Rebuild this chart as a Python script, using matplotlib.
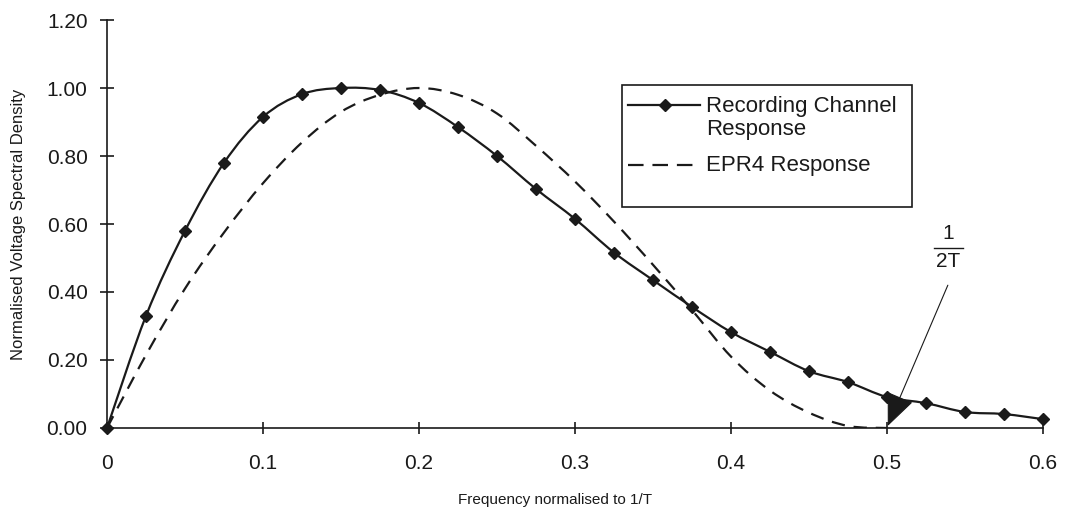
import matplotlib
matplotlib.use("Agg")
import matplotlib.pyplot as plt
from matplotlib.lines import Line2D
from matplotlib.path import Path
from matplotlib.patches import PathPatch, Rectangle

plt.rcParams['font.family'] = ['Liberation Sans', 'DejaVu Sans']

# Frequency (normalised to 1/T)
freq = [0.0, 0.025, 0.05, 0.075, 0.1, 0.125, 0.15, 0.175, 0.2, 0.225, 0.25,
        0.275, 0.3, 0.325, 0.35, 0.375, 0.4, 0.425, 0.45, 0.475, 0.5,
        0.525, 0.55, 0.575, 0.6]
# Recording channel response
recording = [0.0, 0.33, 0.58, 0.78, 0.915, 0.982, 1.0, 0.994, 0.956, 0.885, 0.80,
             0.703, 0.615, 0.516, 0.435, 0.356, 0.282, 0.224, 0.167, 0.135, 0.091,
             0.073, 0.047, 0.041, 0.026]
# EPR4 response
epr4_freq = [0.0, 0.025, 0.05, 0.075, 0.1, 0.125, 0.15, 0.175, 0.2, 0.225, 0.25,
             0.275, 0.3, 0.325, 0.35, 0.375, 0.4, 0.425, 0.45, 0.475, 0.5]
epr4 = [0.0, 0.215, 0.41, 0.575, 0.72, 0.84, 0.93, 0.98, 1.0, 0.98, 0.925,
        0.83, 0.725, 0.607, 0.48, 0.347, 0.21, 0.11, 0.045, 0.006, 0.0]

y_ticks = [0.0, 0.2, 0.4, 0.6, 0.8, 1.0, 1.2]
x_ticks = [0.0, 0.1, 0.2, 0.3, 0.4, 0.5, 0.6]
x_tick_labels = ['0', '0.1', '0.2', '0.3', '0.4', '0.5', '0.6']
series_labels = ['Recording Channel\nResponse', 'EPR4 Response']

ink = '#1a1a1a'
dash = (0, (6, 4))


def smooth_path(xs, ys, t=1.0):
    """Excel-like smoothed line: Catmull-Rom segments as cubic Beziers."""
    pts = list(zip(xs, ys))
    verts = [pts[0]]
    codes = [Path.MOVETO]
    n = len(pts)
    for i in range(n - 1):
        p0 = pts[i - 1] if i > 0 else pts[i]
        p1 = pts[i]
        p2 = pts[i + 1]
        p3 = pts[i + 2] if i + 2 < n else pts[i + 1]
        c1 = (p1[0] + (p2[0] - p0[0]) * t / 6, p1[1] + (p2[1] - p0[1]) * t / 6)
        c2 = (p2[0] - (p3[0] - p1[0]) * t / 6, p2[1] - (p3[1] - p1[1]) * t / 6)
        verts += [c1, c2, p2]
        codes += [Path.CURVE4] * 3
    return Path(verts, codes)


fig = plt.figure(figsize=(10.67, 5.13), dpi=100)
ax = fig.add_axes([0.1003, 0.1657, 0.8772, 0.7953])

ax.add_patch(PathPatch(smooth_path(epr4_freq, epr4), facecolor='none',
                       edgecolor=ink, lw=1.6, linestyle=dash, zorder=2))
ax.add_patch(PathPatch(smooth_path(freq, recording), facecolor='none',
                       edgecolor=ink, lw=1.6, zorder=3, clip_on=False))
ax.plot(freq, recording, ls='none', marker='D', markersize=6.5,
        markerfacecolor=ink, markeredgecolor=ink, zorder=4, clip_on=False)

ax.set_xlim(0, 0.6)
ax.set_ylim(0, 1.2)
ax.set_xticks(x_ticks)
ax.set_xticklabels(x_tick_labels)
ax.set_yticks(y_ticks)
ax.set_yticklabels([f'{v:.2f}' for v in y_ticks])

for s in ['top', 'right']:
    ax.spines[s].set_visible(False)
for s in ['left', 'bottom']:
    ax.spines[s].set_color(ink)
    ax.spines[s].set_linewidth(1.2)

ax.tick_params(axis='y', direction='inout', length=10, width=1.2, colors=ink,
               labelsize=15, pad=9)
ax.tick_params(axis='x', direction='inout', length=9, width=1.2, colors=ink,
               labelsize=15, pad=14)

ax.set_xlabel('Frequency normalised to 1/T', fontsize=11, color=ink)
ax.set_ylabel('Normalised Voltage Spectral Density', fontsize=12, color=ink)
ax.xaxis.set_label_coords((555 - 107) / 936, (428 - 500) / 408)
ax.xaxis.label.set_va('center')
ax.yaxis.set_label_coords((18 - 107) / 936, 0.5)
ax.yaxis.label.set_va('center')

# Annotation 1/(2T)
ax.annotate('', xy=(0.5005, 0.006), xytext=(0.539, 0.42),
            arrowprops=dict(arrowstyle='-|>,head_length=2.1,head_width=0.9',
                            mutation_scale=10, color=ink, lw=0.8,
                            shrinkA=0, shrinkB=0))
fx = (948 - 107) / 936
ax.text(fx, (428 - 233) / 408, '1', transform=ax.transAxes, fontsize=15,
        ha='center', va='center', color=ink)
ax.text(fx, (428 - 261) / 408, '2T', transform=ax.transAxes, fontsize=15,
        ha='center', va='center', color=ink)
ax.add_line(Line2D([(934 - 107) / 936, (963 - 107) / 936],
                   [(428 - 248) / 408] * 2, transform=ax.transAxes,
                   color=ink, lw=1.0))


# Legend (drawn as a boxed key)
def axx(px):
    return (px - 107) / 936


def axy(py):
    return (428 - py) / 408


ax.add_patch(Rectangle((axx(622), axy(207)), axx(912) - axx(622),
                       axy(85) - axy(207), transform=ax.transAxes,
                       facecolor='white', edgecolor=ink, lw=1.2, zorder=5))
ax.add_line(Line2D([axx(628), axx(700)], [axy(105)] * 2, transform=ax.transAxes,
                   color=ink, lw=1.6, zorder=6))
ax.add_line(Line2D([axx(665)], [axy(105)], transform=ax.transAxes, ls='none',
                   marker='D', markersize=6.5, color=ink, zorder=6))
ax.add_line(Line2D([axx(628), axx(700)], [axy(165)] * 2, transform=ax.transAxes,
                   color=ink, lw=1.6, ls=(0, (7, 4)), zorder=6))
ax.text(axx(706), axy(118), series_labels[0], transform=ax.transAxes,
        fontsize=16, ha='left', va='center', color=ink, linespacing=1.1,
        zorder=6)
ax.text(axx(706), axy(165), series_labels[1], transform=ax.transAxes,
        fontsize=16, ha='left', va='center', color=ink, zorder=6)

fig.savefig('out.png', dpi=100, facecolor='white')
